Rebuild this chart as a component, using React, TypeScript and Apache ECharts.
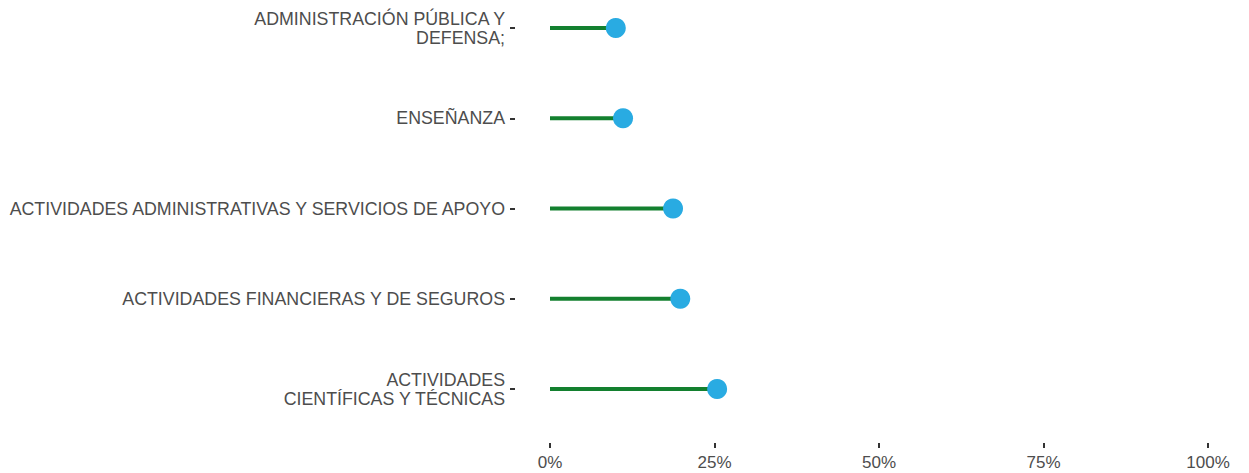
import React, { useEffect, useRef } from "react";
import * as echarts from "echarts";

const categories = [
  "ADMINISTRACIÓN PÚBLICA Y\nDEFENSA;",
  "ENSEÑANZA",
  "ACTIVIDADES ADMINISTRATIVAS Y SERVICIOS DE APOYO",
  "ACTIVIDADES FINANCIERAS Y DE SEGUROS",
  "ACTIVIDADES\nCIENTÍFICAS Y TÉCNICAS",
];
const values = [10.0, 11.1, 18.7, 19.8, 25.4];
const xTicks = [0, 25, 50, 75, 100];
const xMin = -5.32;

export default function App() {
  const ref = useRef<HTMLDivElement>(null);
  useEffect(() => {
    if (!ref.current) return;
    const chart = echarts.init(ref.current, null, { renderer: "svg" });
    const font = "Liberation Sans";
    chart.setOption({
      animation: false,
      grid: { left: 515, right: 41, top: 28, bottom: 84, containLabel: false },
      xAxis: {
        type: "value",
        min: xMin,
        max: xTicks[xTicks.length - 1],
        offset: 54,
        axisLine: { show: false, onZero: false },
        axisTick: {
          show: true,
          length: 5,
          customValues: xTicks,
          lineStyle: { color: "#333333", width: 2 },
        },
        splitLine: { show: false },
        axisLabel: {
          customValues: xTicks,
          formatter: "{value}%",
          color: "#4d4d4d",
          fontFamily: font,
          fontSize: 17,
          margin: 11,
        },
      },
      yAxis: {
        type: "category",
        data: categories,
        inverse: true,
        boundaryGap: false,
        axisLine: { show: false, onZero: false },
        axisTick: { show: true, length: 5, lineStyle: { color: "#333333", width: 2 } },
        splitLine: { show: false },
        axisLabel: {
          color: "#4d4d4d",
          fontFamily: font,
          fontSize: 17.8,
          margin: 10,
          align: "right",
          lineHeight: 19,
        },
      },
      series: [
        {
          type: "bar",
          data: values,
          barWidth: 4,
          itemStyle: { color: "#13802f" },
          z: 1,
        },
        {
          type: "scatter",
          data: values,
          symbolSize: 20,
          itemStyle: { color: "#29abe2", opacity: 1 },
          z: 2,
        },
      ],
    });
    return () => chart.dispose();
  }, []);
  return <div ref={ref} style={{ width: 1249, height: 473, position: "absolute", left: 0, top: 0 }} />;
}
